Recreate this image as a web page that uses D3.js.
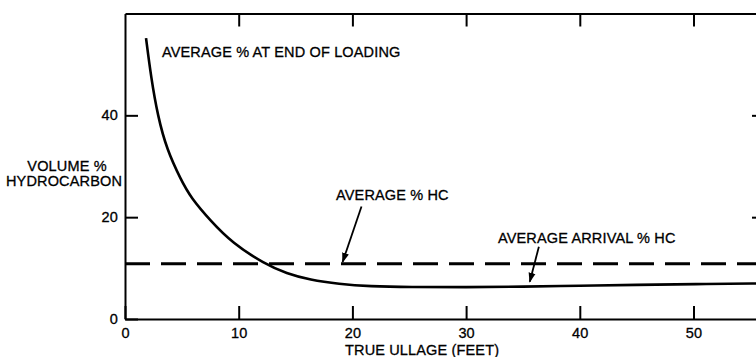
<!DOCTYPE html>
<html>
<head>
<meta charset="utf-8">
<script src="https://cdn.jsdelivr.net/npm/d3@7"></script>
<style>
  body { margin: 0; background: #fff; }
  svg text { font-family: "Liberation Sans", Arial, sans-serif; fill: #000; stroke: #000; stroke-width: 0.3; letter-spacing: 0.15px; }
</style>
</head>
<body>
<svg id="chart" width="756" height="357"></svg>
<script>
// ullage (feet) vs volume % hydrocarbon
const ullage = [1.85, 2.29, 2.88, 3.69, 4.93, 5.77, 7.56, 9.41, 12.31, 14.2, 16.27, 18.8, 21.55, 25, 30, 35, 40, 45, 50, 56.2];
const endOfLoading = [55.15, 47.5, 39.88, 33.2, 27.3, 23.9, 19.2, 15.0, 10.75, 8.95, 7.66, 6.85, 6.4, 6.25, 6.25, 6.35, 6.55, 6.7, 6.85, 7.0];
const averageHC = 10.85;

const xTicks = [0, 10, 20, 30, 40, 50];
const yTicks = [0, 20, 40];

// annotation labels and arrows, in data units
const labels = [
  { text: 'AVERAGE % AT END OF LOADING', x: 3.25, y: 51.5 },
  { text: 'AVERAGE % HC', x: 18.56, y: 23.4 },
  { text: 'AVERAGE ARRIVAL % HC', x: 32.8, y: 14.9 }
];
const arrows = [
  { x1: 20.8, y1: 22.1, x2: 19.14, y2: 11.2 },
  { x1: 36.4, y1: 14.2, x2: 35.6, y2: 7.3 }
];

const svg = d3.select('#chart');

const margin = { top: 13.5, left: 125, bottom: 38 };
const xScale = d3.scaleLinear().domain([0, 56.2]).range([margin.left, 764]);
const yScale = d3.scaleLinear().domain([0, 60]).range([357 - margin.bottom, margin.top]);

const tickLen = 13;
const fontSize = 14.5;

const styleAxis = g => {
  g.selectAll('path.domain').attr('stroke', '#000').attr('stroke-width', 2);
  g.selectAll('.tick line').attr('stroke', '#000').attr('stroke-width', 2);
  g.selectAll('.tick text')
    .attr('font-family', '"Liberation Sans", Arial, sans-serif')
    .attr('font-size', fontSize)
    .attr('fill', '#000');
};

svg.append('g')
  .attr('transform', `translate(0,${yScale(0)})`)
  .call(d3.axisBottom(xScale).tickValues(xTicks).tickSizeInner(-tickLen).tickSizeOuter(0).tickPadding(9))
  .call(styleAxis);

svg.append('g')
  .attr('transform', `translate(0,${yScale(60)})`)
  .call(d3.axisTop(xScale).tickValues(xTicks.slice(1)).tickSizeInner(-tickLen).tickSizeOuter(0).tickFormat(''))
  .call(styleAxis);

svg.append('g')
  .attr('transform', `translate(${xScale(0)},0)`)
  .call(d3.axisLeft(yScale).tickValues(yTicks).tickSizeInner(-tickLen).tickSizeOuter(0).tickPadding(7))
  .call(styleAxis);

svg.append('g')
  .attr('transform', `translate(${xScale(56.2)},0)`)
  .call(d3.axisRight(yScale).tickValues(yTicks.slice(1)).tickSizeInner(-12).tickSizeOuter(0).tickFormat(''))
  .call(styleAxis);

// axis titles
svg.append('text')
  .attr('x', 67).attr('y', 171)
  .attr('text-anchor', 'middle')
  .attr('font-size', fontSize)
  .text('VOLUME %');
svg.append('text')
  .attr('x', 64).attr('y', 186)
  .attr('text-anchor', 'middle')
  .attr('font-size', fontSize)
  .text('HYDROCARBON');
svg.append('text')
  .attr('x', 345).attr('y', 355)
  .attr('font-size', fontSize)
  .text('TRUE ULLAGE (FEET)');

// average % HC dashed line
svg.append('line')
  .attr('x1', xScale(0)).attr('x2', xScale(56.2))
  .attr('y1', yScale(averageHC)).attr('y2', yScale(averageHC))
  .attr('stroke', '#000')
  .attr('stroke-width', 3)
  .attr('stroke-dasharray', '25,11');

// end-of-loading curve
const line = d3.line()
  .x((d, i) => xScale(ullage[i]))
  .y(d => yScale(d))
  .curve(d3.curveBasis);

svg.append('path')
  .datum(endOfLoading)
  .attr('d', line)
  .attr('fill', 'none')
  .attr('stroke', '#000')
  .attr('stroke-width', 2.6);

// arrowheads
svg.append('defs').append('marker')
  .attr('id', 'head')
  .attr('viewBox', '0 0 10 10')
  .attr('refX', 9).attr('refY', 5)
  .attr('markerWidth', 10).attr('markerHeight', 10)
  .attr('markerUnits', 'userSpaceOnUse')
  .attr('orient', 'auto')
  .append('path')
  .attr('d', 'M0,1.5 L10,5 L0,8.5 Z')
  .attr('fill', '#000');

svg.selectAll('.arrow').data(arrows)
  .enter().append('line')
  .attr('class', 'arrow')
  .attr('x1', d => xScale(d.x1)).attr('y1', d => yScale(d.y1))
  .attr('x2', d => xScale(d.x2)).attr('y2', d => yScale(d.y2))
  .attr('stroke', '#000')
  .attr('stroke-width', 1.8)
  .attr('marker-end', 'url(#head)');

svg.selectAll('.label').data(labels)
  .enter().append('text')
  .attr('class', 'label')
  .attr('x', d => xScale(d.x))
  .attr('y', d => yScale(d.y))
  .attr('font-size', fontSize)
  .text(d => d.text);
</script>
</body>
</html>
